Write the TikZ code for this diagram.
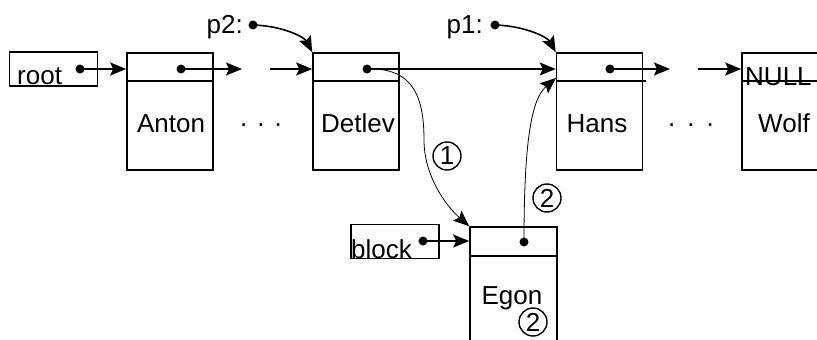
\documentclass[tikz,border=0pt]{standalone}
\usepackage{fontspec}
\setmainfont{Liberation Sans}
\usetikzlibrary{arrows.meta,calc}
\begin{document}
\begin{tikzpicture}[x=1pt,y=-1pt,
  lw/.style={line width=1.6pt},
  rec/.style={draw,line width=1.6pt,rectangle,inner sep=0pt,minimum width=86pt,minimum height=117pt},
  small/.style={draw,line width=1.6pt,rectangle,inner sep=0pt,minimum width=88pt,minimum height=34pt},
  ptr/.style={circle,fill,inner sep=0pt,minimum size=9pt},
  arr/.style={line width=1.6pt,-{Stealth[length=16pt,width=13pt,inset=3pt]}},
  tarr/.style={line width=0.8pt,-{Stealth[length=16pt,width=13pt,inset=3pt]}},
  lbl/.style={font=\fontsize{26}{30}\selectfont,anchor=base,inner sep=0pt},
  num/.style={circle,draw,line width=1.4pt,minimum size=28pt,inner sep=0pt,font=\fontsize{26}{30}\selectfont}]
\useasboundingbox (0,0) rectangle (817,340);
\clip (0,0) rectangle (817,340);

% root
\node[small] (root) at (53.5,69) {};
\node[lbl,anchor=base west] (roottxt) at (17,84) {root};
\node[ptr] (rootp) at (80,69) {};

% Anton
\node[rec] (anton) at (170,111.5) {};
\draw[lw] ($(anton.north west)+(0,29)$) -- ($(anton.north east)+(0,29)$);
\node[lbl] (antontxt) at (171,132) {Anton};
\node[ptr] (antonp) at (181,69) {};
\draw[arr] (rootp.center) -- (anton.west |- rootp);
\coordinate (a1) at (242,69);
\draw[arr] (antonp.center) -- (a1);
\node[lbl] (dots1) at (261,126) {.\hspace{10pt}.\hspace{10pt}.};
\coordinate (b1) at (270,69);

% Detlev
\node[rec] (detlev) at (356,111.5) {};
\draw[lw] ($(detlev.north west)+(0,29)$) -- ($(detlev.north east)+(0,29)$);
\node[lbl] (detlevtxt) at (358,132) {Detlev};
\node[ptr] (detlevp) at (367,69) {};
\draw[arr] (b1) -- (detlev.west |- b1);

% Hans
\node[rec] (hans) at (599.5,111.5) {};
\draw[lw] ($(hans.north west)+(0,29)$) -- ($(hans.north east)+(3,29)$);
\node[lbl] (hanstxt) at (597,132) {Hans};
\node[ptr] (hansp) at (610,69) {};
\draw[arr] (detlevp.center) -- (hans.west |- detlevp);
\coordinate (a2) at (670,69);
\draw[arr] (hansp.center) -- (a2);
\node[lbl] (dots2) at (691,126) {.\hspace{12pt}.\hspace{12pt}.};
\coordinate (b2) at (698,69);

% Wolf
\node[rec] (wolf) at (785,111.5) {};
\draw[lw] ($(wolf.north west)+(0,29)$) -- ($(wolf.north east)+(0,29)$);
\node[lbl,anchor=base west] (nulltxt) at (745,85) {NULL};
\node[lbl] (wolftxt) at (784,132) {Wolf};
\draw[arr] (b2) -- (wolf.west |- b2);

% p2, p1
\node[lbl,anchor=base east] (p2txt) at (243,33) {p2:};
\node[ptr] (p2p) at (253,25) {};
\draw[arr] (p2p.center) .. controls (285,26) and (305,38) .. (detlev.north west);
\node[lbl,anchor=base east] (p1txt) at (483,33) {p1:};
\node[ptr] (p1p) at (495,25) {};
\draw[arr] (p1p.center) .. controls (527,26) and (548,38) .. (hans.north west);

% Egon
\node[draw,line width=1.6pt,rectangle,inner sep=0pt,minimum width=87pt,minimum height=130pt] (egon) at (513.5,292) {};
\draw[lw] ($(egon.north west)+(0,30)$) -- ($(egon.north east)+(0,30)$);
\node[lbl] (egontxt) at (512,304) {Egon};
\node[ptr] (egonp) at (524,242) {};

% block
\node[small] (block) at (395,241.5) {};
\node[lbl,anchor=base west] (blocktxt) at (351,258) {block};
\node[ptr] (blockp) at (423,241) {};
\draw[arr] (blockp.center) -- (egon.west |- blockp);

% step 1
\draw[tarr] (detlevp.center) .. controls (415,67) and (424,100) .. (424,140)
  .. controls (424,175) and (445,205) .. (egon.north west);
\node[num] (n1) at (447,156) {\raisebox{-7pt}{1}};

% step 2
\coordinate (h2) at (556,78);
\draw[tarr] (egonp.center) .. controls (524,150) and (530,100) .. (h2);
\node[num] (n2) at (547,198) {\raisebox{-7pt}{2}};
\node[num] (n3) at (533,322) {\raisebox{-7pt}{2}};
\end{tikzpicture}
\end{document}
